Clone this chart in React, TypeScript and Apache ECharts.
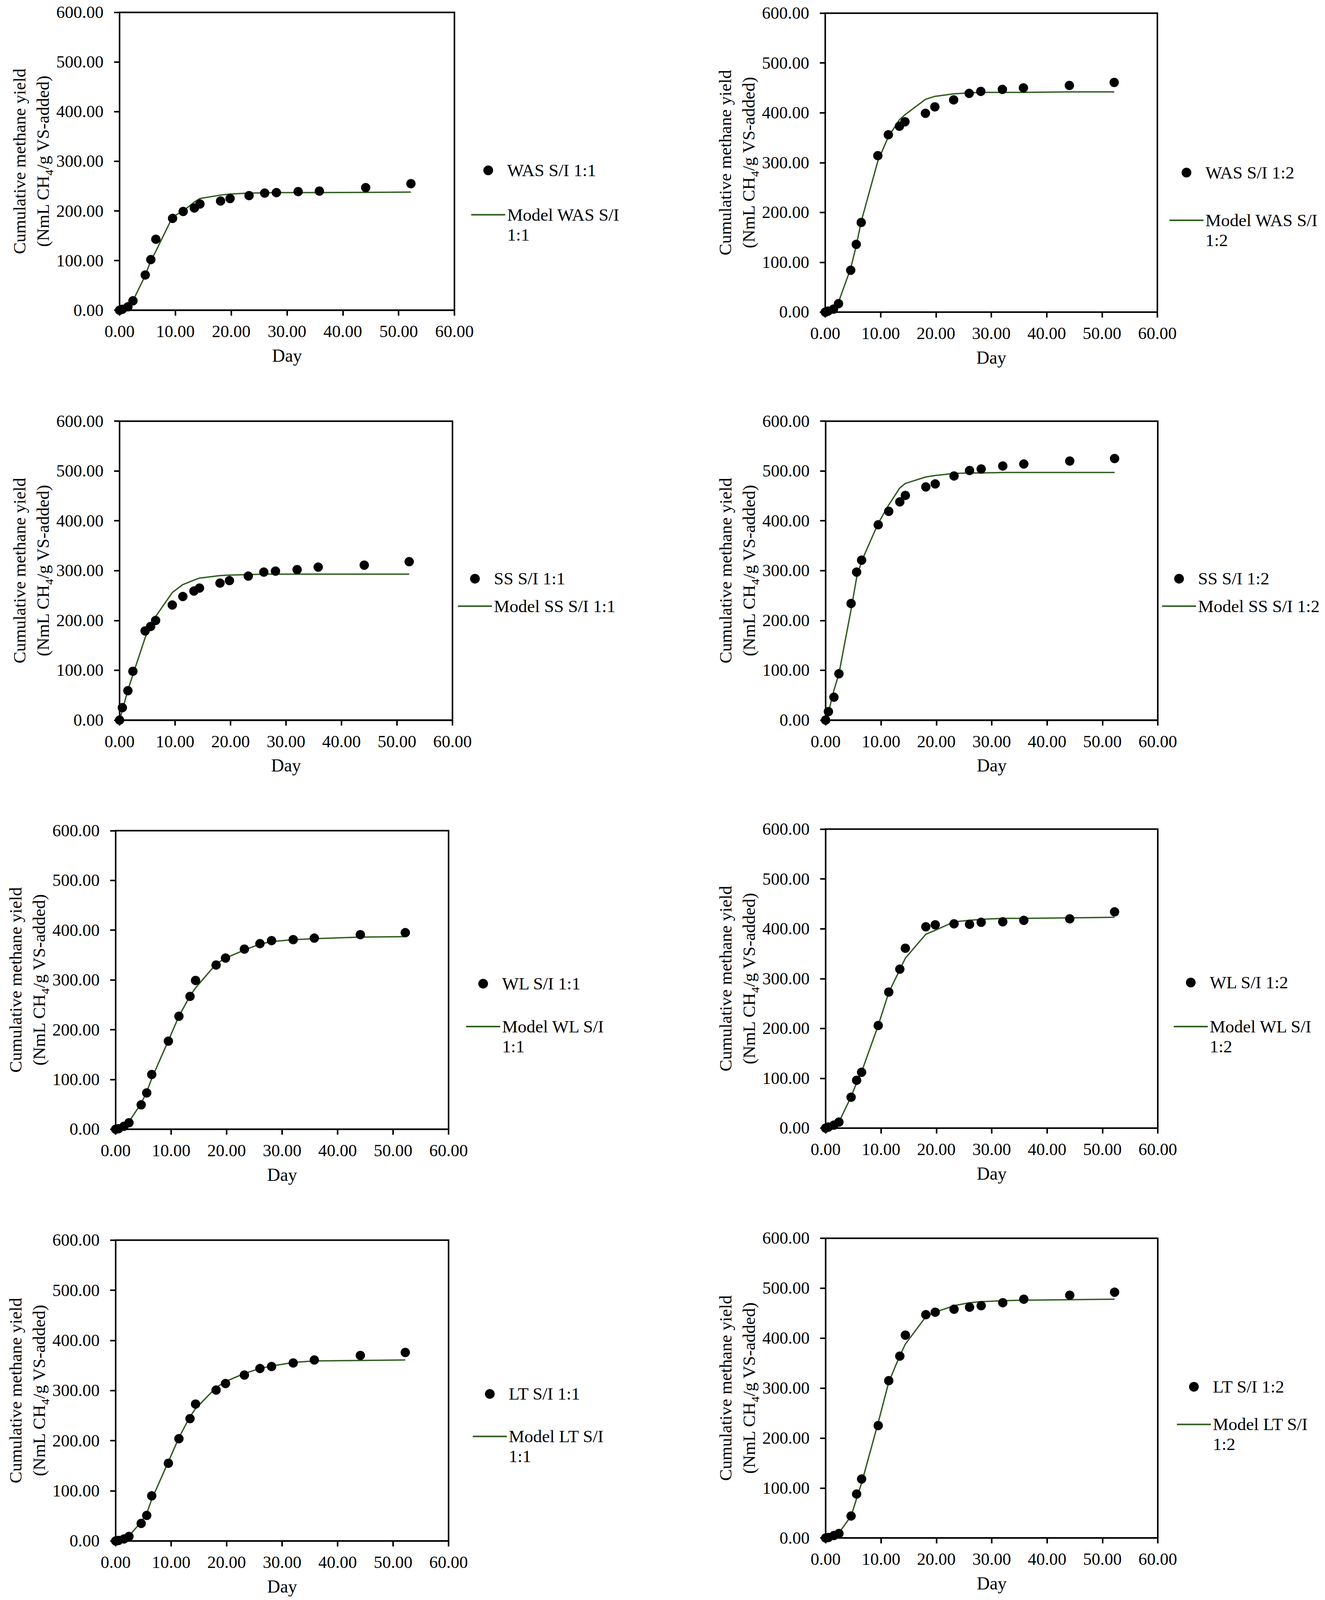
import React, { useEffect, useRef } from 'react';
import * as echarts from 'echarts';

// ---- data ----
const DAYS = [0, 0.5, 1.5, 2.4, 4.6, 5.6, 6.5, 9.5, 11.4, 13.4, 14.4, 18.1, 19.8, 23.2, 26.0, 28.1, 32.0, 35.8, 44.1, 52.2];

const WAS_11_OBS = [0, 2, 7, 19, 71, 102, 143, 185, 199, 206, 214, 220, 225, 231, 236, 237, 239, 240, 247, 255];
const WAS_11_MODEL = [0, 1, 5, 19, 70, 100, 119, 188, 200, 218, 225, 232, 234, 236, 236.5, 237, 237, 237, 237.5, 238];

const WAS_12_OBS = [0, 2, 6, 17, 84, 136, 180, 314, 356, 373, 382, 399, 412, 426, 439, 443, 447, 450, 455, 461];
const WAS_12_MODEL = [0, 1, 5, 20, 88, 133, 182, 303, 352, 386, 396, 427, 433, 438, 440, 441, 441, 441, 442, 442];

const SS_11_OBS = [0, 25, 59, 98, 179, 188, 200, 231, 248, 259, 265, 275, 280, 289, 297, 299, 302, 307, 311, 318];
const SS_11_MODEL = [0, 20, 60, 91, 165, 192, 208, 256, 272, 281, 285, 290, 291, 292, 293, 293, 293, 293, 293, 293];

const SS_12_OBS = [0, 17, 46, 93, 234, 297, 321, 392, 419, 438, 451, 468, 474, 490, 501, 504, 510, 514, 520, 525];
const SS_12_MODEL = [0, 15, 60, 93, 222, 286, 319, 395, 432, 466, 475, 488, 491, 495, 496, 496, 497, 497, 497, 497];

const WL_11_OBS = [0, 1, 6, 13, 49, 73, 110, 177, 227, 267, 299, 330, 344, 362, 373, 379, 381, 384, 391, 395];
const WL_11_MODEL = [0, 1, 4, 15, 52, 75, 102, 178, 227, 268, 284, 332, 344, 360, 372, 377, 381, 383, 386, 387];

const WL_12_OBS = [0, 2, 6, 12, 62, 96, 112, 206, 273, 319, 361, 404, 408, 410, 409, 413, 414, 417, 420, 434];
const WL_12_MODEL = [0, 1, 4, 12, 63, 91, 113, 206, 272, 318, 341, 389, 397, 414, 417, 419, 421, 421, 422, 423];

const LT_11_OBS = [0, 1, 4, 9, 35, 51, 90, 155, 204, 244, 273, 301, 314, 331, 344, 348, 355, 361, 370, 376];
const LT_11_MODEL = [0, 1, 3, 10, 38, 55, 83, 158, 206, 248, 264, 306, 318, 334, 344, 349, 356, 359, 360, 361];

const LT_12_OBS = [0, 1, 5, 9, 44, 88, 118, 225, 315, 364, 406, 447, 452, 458, 462, 465, 471, 478, 486, 492];
const LT_12_MODEL = [0, 1, 3, 10, 44, 79, 110, 231, 312, 365, 388, 443, 452, 465, 471, 473, 475, 476, 477, 478];

const OBS_NAMES = ['WAS S/I 1:1', 'WAS S/I 1:2', 'SS S/I 1:1', 'SS S/I 1:2', 'WL S/I 1:1', 'WL S/I 1:2', 'LT S/I 1:1', 'LT S/I 1:2'];
const MODEL_NAMES = ['Model WAS S/I 1:1', 'Model WAS S/I 1:2', 'Model SS S/I 1:1', 'Model SS S/I 1:2', 'Model WL S/I 1:1', 'Model WL S/I 1:2', 'Model LT S/I 1:1', 'Model LT S/I 1:2'];
// legend text lines as shown (wrapped where the picture wraps)
const MODEL_LABEL_LINES = [
  ['Model WAS S/I', '1:1'],
  ['Model WAS S/I', '1:2'],
  ['Model SS S/I 1:1'],
  ['Model SS S/I 1:2'],
  ['Model WL S/I', '1:1'],
  ['Model WL S/I', '1:2'],
  ['Model LT S/I', '1:1'],
  ['Model LT S/I', '1:2'],
];
const OBS_SETS = [WAS_11_OBS, WAS_12_OBS, SS_11_OBS, SS_12_OBS, WL_11_OBS, WL_12_OBS, LT_11_OBS, LT_12_OBS];
const MODEL_SETS = [WAS_11_MODEL, WAS_12_MODEL, SS_11_MODEL, SS_12_MODEL, WL_11_MODEL, WL_12_MODEL, LT_11_MODEL, LT_12_MODEL];

const X_TITLE = 'Day';
const Y_TITLE = 'Cumulative methane yield\n(NmL CH{sub|4}/g VS-added)';

// ---- layout (pixels of the 3391 x 4255 reference) ----
const REF_W = 3391;
const REF_H = 4255;
const GRIDS = [
  [306, 33, 857, 792],
  [2112, 35, 850, 795],
  [306, 1120, 852, 795],
  [2113, 1120, 850, 795],
  [296, 2209, 852, 794],
  [2113, 2205, 850, 795],
  [296, 3298, 852, 800],
  [2113, 3293, 850, 797],
];
// legend: [line-icon left, marker centre y, line centre y]
const LEGENDS = [
  [1206, 453, 571],
  [2993, 459, 586],
  [1172, 1539, 1612],
  [2974, 1539, 1612],
  [1193, 2616, 2730],
  [3004, 2613, 2730],
  [1210, 3707, 3820],
  [3012, 3688, 3788],
];

const FONT = "'Liberation Serif', 'Times New Roman', serif";
const GREEN = '#2e5e1e';
const ICON_W = 87;
const ICON_H = 25;

function buildOption(sx: number, sy: number) {
  const labelMap: Record<string, string> = {};
  OBS_NAMES.forEach((n) => (labelMap[n] = n));
  MODEL_NAMES.forEach((n, i) => {
    const lines = MODEL_LABEL_LINES[i];
    // a leading empty line keeps the first text line level with the icon
    labelMap[n] = lines.length > 1 ? '\n' + lines.join('\n') : lines[0];
  });

  const grid = GRIDS.map(([left, top, width, height]) => ({
    left: left * sx, top: top * sy, width: width * sx, height: height * sy,
    show: true, borderColor: '#000', borderWidth: 4, backgroundColor: 'transparent',
  }));

  const xAxis = GRIDS.map((_, i) => ({
    gridIndex: i, type: 'value', min: 0, max: 60, interval: 10,
    name: X_TITLE, nameLocation: 'middle', nameGap: 97 * sy,
    nameTextStyle: { fontFamily: FONT, fontSize: 46, color: '#000', lineHeight: 46 },
    axisLine: { show: true, onZero: false, lineStyle: { color: '#000', width: 4 } },
    axisTick: { show: true, inside: false, length: 14, lineStyle: { color: '#000', width: 4 } },
    axisLabel: { margin: 34 * sy, fontFamily: FONT, fontSize: 44, color: '#000', formatter: (v: number) => v.toFixed(2) },
    splitLine: { show: false },
  }));

  const yAxis = GRIDS.map((_, i) => ({
    gridIndex: i, type: 'value', min: 0, max: 600, interval: 100,
    name: Y_TITLE, nameLocation: 'middle', nameGap: 166 * sx,
    nameTextStyle: {
      fontFamily: FONT, fontSize: 45, color: '#000', lineHeight: 60,
      rich: { sub: { fontFamily: FONT, fontSize: 30, color: '#000', lineHeight: 30, verticalAlign: 'bottom' } },
    },
    axisLine: { show: true, onZero: false, lineStyle: { color: '#000', width: 4 } },
    axisTick: { show: true, inside: false, length: 14, lineStyle: { color: '#000', width: 4 } },
    axisLabel: { margin: 41 * sx, fontFamily: FONT, fontSize: 44, color: '#000', formatter: (v: number) => v.toFixed(2) },
    splitLine: { show: false },
  }));

  const series: any[] = [];
  GRIDS.forEach((_, i) => {
    series.push({
      name: MODEL_NAMES[i], type: 'line', xAxisIndex: i, yAxisIndex: i,
      data: DAYS.map((d, k) => [d, MODEL_SETS[i][k]]),
      symbol: 'none', showSymbol: false, smooth: false, color: GREEN,
      lineStyle: { color: GREEN, width: 3.5 }, itemStyle: { color: GREEN },
      z: 2,
    });
    series.push({
      name: OBS_NAMES[i], type: 'scatter', xAxisIndex: i, yAxisIndex: i,
      data: DAYS.map((d, k) => [d, OBS_SETS[i][k]]),
      symbol: 'circle', symbolSize: 24, itemStyle: { color: '#000', opacity: 1 }, clip: false,
      z: 3,
    });
  });

  const LH = 53 * sy;
  const textStyle = { fontFamily: FONT, fontSize: 45, color: '#000', lineHeight: LH };
  const legend: any[] = [];
  LEGENDS.forEach(([lineLeft, markerY, lineY], i) => {
    const markerCX = lineLeft + ICON_W / 2;
    // observed-data item: bounding box starts at the circle's left edge
    legend.push({
      orient: 'vertical', left: markerCX * sx - ICON_H / 2, top: markerY * sy - LH / 2,
      itemWidth: ICON_W, itemHeight: ICON_H, padding: 0, selectedMode: false,
      data: [{ name: OBS_NAMES[i], icon: 'circle' }],
      formatter: (n: string) => labelMap[n],
      textStyle,
    });
    const nLines = MODEL_LABEL_LINES[i].length > 1 ? 3 : 1;
    legend.push({
      orient: 'vertical', left: lineLeft * sx, top: lineY * sy - (nLines * LH) / 2,
      itemWidth: ICON_W, itemHeight: ICON_H, padding: 0, selectedMode: false,
      data: [{ name: MODEL_NAMES[i], icon: 'path://M0,0 L87,0 L87,4 L0,4 Z' }],
      formatter: (n: string) => labelMap[n],
      textStyle,
    });
  });

  return {
    animation: false,
    backgroundColor: '#fff',
    textStyle: { fontFamily: FONT },
    grid, xAxis, yAxis, series, legend,
  };
}

export default function App() {
  const ref = useRef<HTMLDivElement>(null);
  useEffect(() => {
    const el = ref.current;
    if (!el) return;
    const chart = echarts.init(el, undefined, { renderer: 'svg' });
    const w = el.clientWidth || REF_W;
    const h = el.clientHeight || REF_H;
    chart.setOption(buildOption(w / REF_W, h / REF_H) as any);
    return () => chart.dispose();
  }, []);
  return (
    <div
      ref={ref}
      style={{ position: 'fixed', left: 0, top: 0, right: 0, bottom: 0, background: '#fff' }}
    />
  );
}
